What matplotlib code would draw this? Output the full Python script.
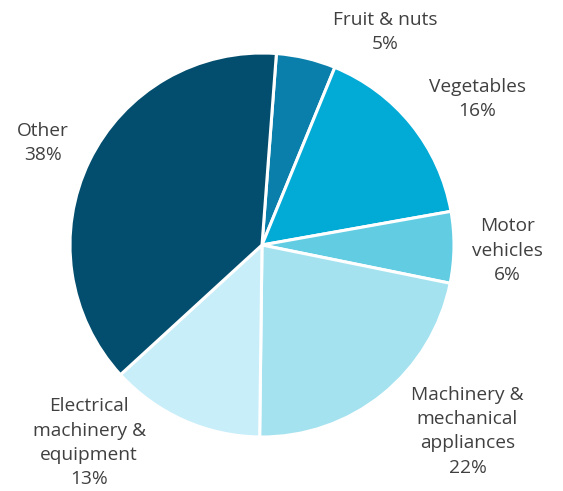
import matplotlib
matplotlib.use('Agg')
import matplotlib.pyplot as plt

# Share of trade by product group (%)
categories = ['Fruit & nuts', 'Vegetables', 'Motor\nvehicles',
              'Machinery &\nmechanical\nappliances',
              'Electrical\nmachinery &\nequipment', 'Other']
values = [5, 16, 6, 22, 13, 38]
colors = ['#0a7fab', '#02aad6', '#62cce3', '#a4e2ef', '#c8eefa', '#034e6e']

# label anchor points (in pie radius units)
label_pos = [(0.64, 1.11), (1.12, 0.76), (1.28, -0.03),
             (1.07, -0.97), (-0.90, -1.03), (-1.14, 0.53)]

fig = plt.figure(figsize=(5.63, 4.91), dpi=100)
ax = fig.add_axes([70 / 563, 54 / 491, 384 / 563, 384 / 491])

ax.pie(values, colors=colors, startangle=85.7, counterclock=False,
       radius=1, wedgeprops=dict(edgecolor='white', linewidth=2.2))
ax.set_xlim(-1, 1)
ax.set_ylim(-1, 1)
ax.set_aspect('equal')
ax.axis('off')

for cat, val, (x, y) in zip(categories, values, label_pos):
    ax.text(x, y, f'{cat}\n{val}%', ha='center', va='center',
            fontsize=13.8, color='#404040', family='Open Sans',
            linespacing=1.45, clip_on=False)

fig.savefig('out.png', dpi=100)
